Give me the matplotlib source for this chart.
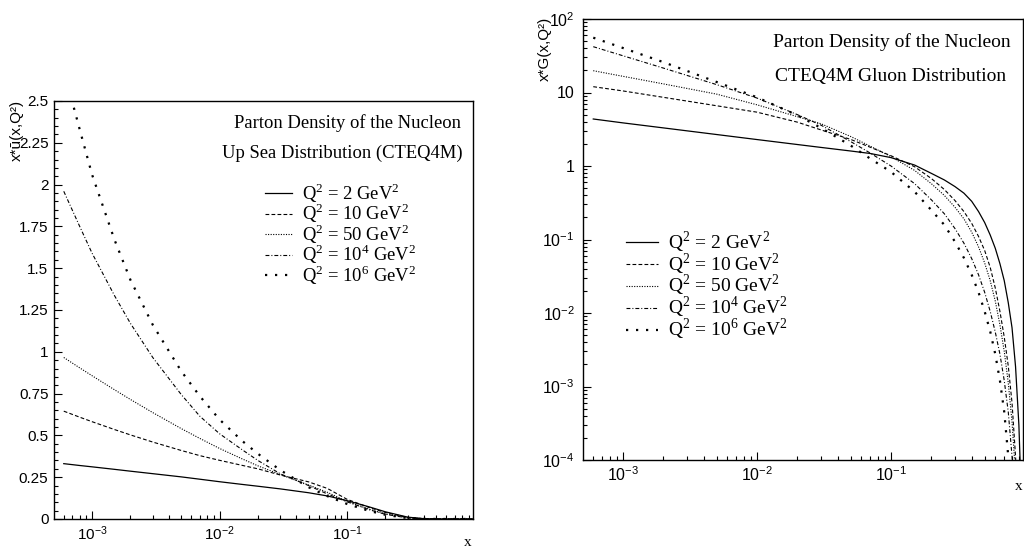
import matplotlib
matplotlib.use("Agg")
import matplotlib.pyplot as plt
from matplotlib.ticker import LogLocator, MultipleLocator, FuncFormatter, NullFormatter
import numpy as np

plt.rcParams['font.family'] = ['Liberation Sans', 'DejaVu Sans']
plt.rcParams['mathtext.fontset'] = 'custom'
plt.rcParams['mathtext.rm'] = 'Liberation Sans'

# ---------------- data ----------------
Q2_LABELS = [r'Q$^{\mathregular{2}}$ = 2 GeV$^{\mathregular{2}}$',
             r'Q$^{\mathregular{2}}$ = 10 GeV$^{\mathregular{2}}$',
             r'Q$^{\mathregular{2}}$ = 50 GeV$^{\mathregular{2}}$',
             r'Q$^{\mathregular{2}}$ = 10$^{\mathregular{4}}$ GeV$^{\mathregular{2}}$',
             r'Q$^{\mathregular{2}}$ = 10$^{\mathregular{6}}$ GeV$^{\mathregular{2}}$']

# Up sea: x * ubar(x, Q^2)
UB_X = [6e-4, 8e-4, 1e-3, 1.5e-3, 2e-3, 3e-3, 5e-3, 7e-3, 1e-2, 1.5e-2, 2e-2,
        3e-2, 5e-2, 7e-2, 0.1, 0.15, 0.2, 0.3, 0.4, 0.5, 0.7, 0.97]
UB_Q2_2 = [0.331, 0.320, 0.312, 0.297, 0.286, 0.271, 0.252, 0.238, 0.223, 0.207, 0.196,
           0.180, 0.157, 0.138, 0.110, 0.072, 0.043, 0.011, 0.002, 0.0005, 0.0, 0.0]
UB_Q2_10 = [0.645, 0.609, 0.582, 0.535, 0.503, 0.460, 0.410, 0.379, 0.351, 0.321, 0.300,
            0.263, 0.222, 0.183, 0.118, 0.068, 0.039, 0.009, 0.002, 0.0005, 0.0, 0.0]
UB_Q2_50 = [0.966, 0.904, 0.857, 0.773, 0.715, 0.636, 0.541, 0.482, 0.422, 0.360, 0.318,
            0.266, 0.203, 0.160, 0.105, 0.058, 0.031, 0.008, 0.002, 0.0004, 0.0, 0.0]
UB_Q2_1E4 = [1.96, 1.75, 1.59, 1.336, 1.17, 0.965, 0.745, 0.615, 0.51, 0.415, 0.35,
             0.27, 0.200, 0.150, 0.103, 0.055, 0.028, 0.006, 0.001, 0.0002, 0.0, 0.0]
UB_X_1E6 = [7.2e-4, 8e-4, 1e-3, 1.5e-3, 2e-3, 3e-3, 5e-3, 7e-3, 1e-2, 1.5e-2, 2e-2,
            3e-2, 5e-2, 7e-2, 0.1, 0.15, 0.2, 0.3, 0.4, 0.5, 0.7, 0.97]
UB_Q2_1E6 = [2.46, 2.33, 2.06, 1.67, 1.43, 1.16, 0.885, 0.735, 0.595, 0.468, 0.39,
             0.292, 0.190, 0.137, 0.090, 0.048, 0.025, 0.005, 0.001, 0.0002, 0.0, 0.0]

# Gluon: x * G(x, Q^2)
G_X = [6e-4, 1e-3, 2e-3, 5e-3, 1e-2, 2e-2, 3e-2, 5e-2, 7e-2, 0.1, 0.15, 0.2, 0.25,
       0.3, 0.35, 0.4, 0.45, 0.5, 0.55, 0.6, 0.65, 0.7, 0.75, 0.8, 0.85, 0.9, 0.95]
G_Q2_2 = [4.36, 3.86, 3.30, 2.68, 2.29, 1.96, 1.79, 1.60, 1.48, 1.30, 1.03, 0.794, 0.646,
          0.525, 0.427, 0.331, 0.240, 0.170, 0.115, 0.0759, 0.0468, 0.0275, 0.0138,
          6.3e-3, 1.86e-3, 3.0e-4, 1.6e-5]
G_Q2_10 = [12.0, 10.5, 8.6, 6.6, 5.4, 3.95, 3.1, 2.3, 1.8, 1.38, 0.977, 0.676, 0.479,
           0.339, 0.240, 0.166, 0.110, 0.0708, 0.0417, 0.0219, 0.0105, 4.7e-3, 1.9e-3,
           6.0e-4, 1.12e-4, 1.0e-5, 1e-7]
G_Q2_50 = [19.8, 16.6, 13.1, 9.5, 6.8, 4.69, 3.76, 2.52, 1.86, 1.34, 0.871, 0.575, 0.398,
           0.275, 0.191, 0.126, 0.0794, 0.0479, 0.0275, 0.0145, 6.9e-3, 3.0e-3, 1.12e-3,
           3.3e-4, 6.3e-5, 6e-6, 1e-7]
G_Q2_1E4 = [42.0, 31.6, 21.5, 12.8, 8.4, 5.0, 3.6, 2.15, 1.5, 1.0, 0.575, 0.347, 0.224,
            0.141, 0.0891, 0.055, 0.0331, 0.0191, 0.0105, 5.5e-3, 2.75e-3, 1.2e-3, 4.5e-4,
            1.12e-4, 1.6e-5, 1e-6, 1e-8]
G_Q2_1E6 = [55.7, 40.3, 25.9, 13.9, 8.6, 4.9, 3.3, 1.9, 1.26, 0.832, 0.447, 0.251, 0.158,
            0.0933, 0.0562, 0.0331, 0.0191, 0.0105, 5.6e-3, 2.75e-3, 1.2e-3, 4.5e-4,
            1.12e-4, 2e-5, 1e-6, 1e-8, 1e-10]

LEFT_TICKS_Y = [0, 0.25, 0.5, 0.75, 1, 1.25, 1.5, 1.75, 2, 2.25, 2.5]

# ---------------- styles ----------------
STYLES = [dict(linestyle='-', linewidth=0.9),
          dict(linestyle=(0, (3.4, 2.0)), linewidth=0.8),
          dict(linestyle=(0, (1.0, 1.3)), linewidth=0.8),
          dict(linestyle=(0, (3.5, 1.8, 0.9, 1.8)), linewidth=0.8),
          dict(linestyle=(0, (1.0, 3.5)), linewidth=1.6)]

W, H = 1024, 550
fig = plt.figure(figsize=(W / 100, H / 100), dpi=100)
fig.patch.set_facecolor('white')


def axes_px(l, t, r, b):
    return fig.add_axes([l / W, 1 - b / H, (r - l) / W, (b - t) / H])


def fig_xy(px, py):
    return px / W, 1 - py / H


def pow_fmt(v, pos):
    if v <= 0:
        return ''
    e = int(round(np.log10(v)))
    if e == 0:
        return '1'
    if e == 1:
        return '10'
    return r'$\mathregular{10^{%d}}$' % e


SERIF = ['Liberation Serif', 'DejaVu Serif']

# ---------------- left panel ----------------
axL = axes_px(54, 101, 473, 519)
left_series = [(UB_X, UB_Q2_2), (UB_X, UB_Q2_10), (UB_X, UB_Q2_50),
               (UB_X, UB_Q2_1E4), (UB_X_1E6, UB_Q2_1E6)]
hL = []
for (xs, ys), st in zip(left_series, STYLES):
    ln, = axL.plot(xs, ys, color='black', **st)
    hL.append(ln)
axL.set_xscale('log')
axL.set_xlim(5.03e-4, 0.973)
axL.set_ylim(0, 2.5)
axL.set_yticks(LEFT_TICKS_Y)
axL.yaxis.set_major_formatter(FuncFormatter(lambda v, p: '%g' % v))
axL.yaxis.set_minor_locator(MultipleLocator(0.05))

# ---------------- right panel ----------------
axR = axes_px(583, 19, 1023, 460)
right_series = [G_Q2_2, G_Q2_10, G_Q2_50, G_Q2_1E4, G_Q2_1E6]
hR = []
for ys, st in zip(right_series, STYLES):
    ln, = axR.plot(G_X, ys, color='black', **st)
    hR.append(ln)
axR.set_xscale('log')
axR.set_yscale('log')
axR.set_xlim(5.03e-4, 0.966)
axR.set_ylim(1e-4, 1e2)
axR.yaxis.set_major_locator(LogLocator(base=10, numticks=20))
axR.yaxis.set_minor_locator(LogLocator(base=10, subs=np.arange(2, 10), numticks=40))
axR.yaxis.set_major_formatter(FuncFormatter(pow_fmt))
axR.yaxis.set_minor_formatter(NullFormatter())

for ax, fs, ypad in ((axL, 11, 4), (axR, 11.5, 6)):
    ax.xaxis.set_major_locator(LogLocator(base=10, numticks=20))
    ax.xaxis.set_minor_locator(LogLocator(base=10, subs=np.arange(2, 10), numticks=40))
    ax.xaxis.set_major_formatter(FuncFormatter(pow_fmt))
    ax.xaxis.set_minor_formatter(NullFormatter())
    ax.tick_params(which='both', direction='in', top=False, right=False,
                   width=0.8, colors='black', labelsize=fs)
    ax.tick_params(which='major', length=5.5)
    ax.tick_params(which='minor', length=2.8)
    ax.tick_params(axis='x', pad=4)
    ax.tick_params(axis='y', pad=ypad)
    for sp in ax.spines.values():
        sp.set_linewidth(1.0)
        sp.set_color('black')

# ---------------- texts ----------------
fig.text(*fig_xy(17, 100), 'x*ū(x,Q²)', rotation=90, ha='center', va='top', fontsize=11)
fig.text(*fig_xy(545, 17), 'x*G(x,Q²)', rotation=90, ha='center', va='top', fontsize=11)
fig.text(*fig_xy(468, 543), 'x', ha='center', va='center', fontsize=11, family=SERIF)
fig.text(*fig_xy(1019, 487), 'x', ha='center', va='center', fontsize=11, family=SERIF)

fig.text(*fig_xy(348, 123), 'Parton Density of the Nucleon', ha='center', va='center',
         fontsize=13.4, family=SERIF)
fig.text(*fig_xy(342, 153), 'Up Sea Distribution (CTEQ4M)', ha='center', va='center',
         fontsize=13.4, family=SERIF)
fig.text(*fig_xy(892, 42), 'Parton Density of the Nucleon', ha='center', va='center',
         fontsize=14, family=SERIF)
fig.text(*fig_xy(891, 76), 'CTEQ4M Gluon Distribution', ha='center', va='center',
         fontsize=14, family=SERIF)

fL = 13.4
axL.legend(hL, Q2_LABELS, loc='upper left', bbox_to_anchor=fig_xy(265, 181),
           bbox_transform=fig.transFigure, frameon=False,
           prop={'family': SERIF, 'size': fL}, handlelength=27 / (fL * 1.389),
           handletextpad=10 / (fL * 1.389), labelspacing=-0.18, borderpad=0,
           borderaxespad=0)
fR = 14
axR.legend(hR, Q2_LABELS, loc='upper left', bbox_to_anchor=fig_xy(626, 229),
           bbox_transform=fig.transFigure, frameon=False,
           prop={'family': SERIF, 'size': fR}, handlelength=32 / (fR * 1.389),
           handletextpad=10 / (fR * 1.389), labelspacing=-0.19, borderpad=0,
           borderaxespad=0)

fig.savefig('out.png', dpi=100, facecolor='white')
